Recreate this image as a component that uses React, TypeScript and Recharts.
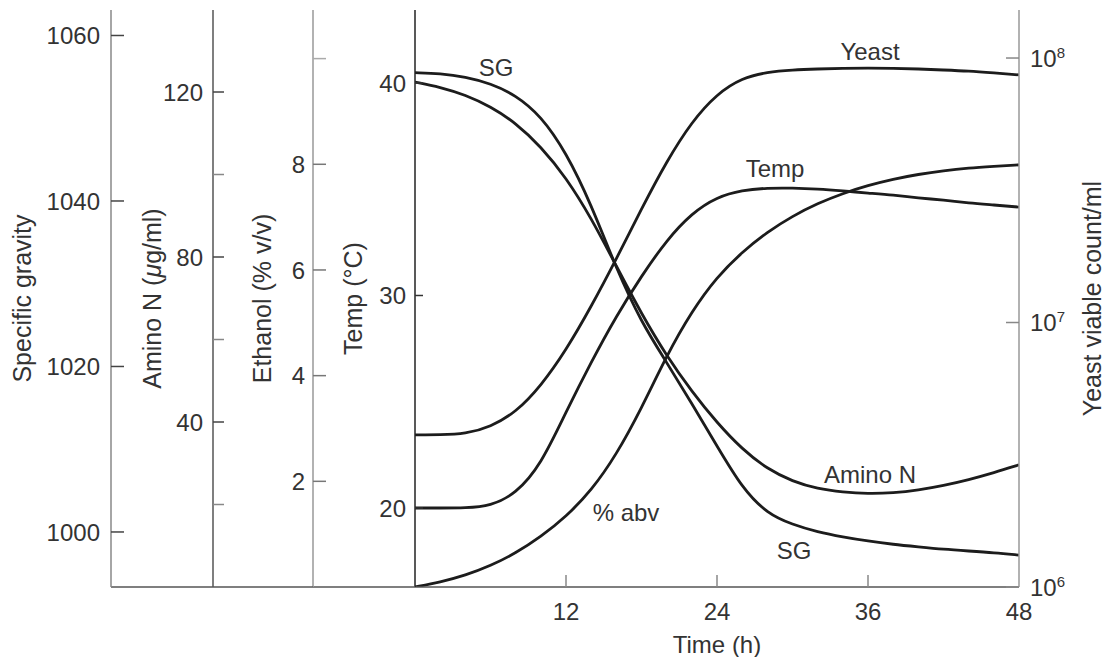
import React from 'react';
import { ComposedChart, Line, XAxis, YAxis, ReferenceDot } from 'recharts';

// ---------- data ----------
const TIME = [0, 2, 4, 6, 8, 10, 12, 14, 16, 18, 20, 22, 24, 26, 28, 30, 32, 34, 36, 38, 40, 42, 44, 46, 48];
const SG = [1055.5, 1055.4, 1055.0, 1054.2, 1052.8, 1050.3, 1045.9, 1039.6, 1031.8, 1025.3, 1020.5, 1015.5, 1010.4, 1005.3, 1002.2, 1000.9, 1000.0, 999.4, 998.9, 998.5, 998.2, 997.9, 997.7, 997.5, 997.2];
const AMINO_N = [122.4, 121.2, 119.3, 116.5, 112.5, 106.8, 99.3, 89.5, 77.8, 66.2, 56.0, 47.4, 39.8, 33.4, 28.6, 25.6, 23.8, 23.0, 22.6, 22.8, 23.5, 24.6, 26.0, 27.7, 29.6];
const ETHANOL = [0, 0.09, 0.22, 0.4, 0.64, 0.95, 1.33, 1.82, 2.5, 3.38, 4.38, 5.22, 5.87, 6.34, 6.72, 7.02, 7.26, 7.45, 7.6, 7.72, 7.81, 7.88, 7.93, 7.96, 7.99];
const TEMP = [20.0, 20.0, 20.0, 20.09, 20.66, 22.02, 24.52, 26.87, 29.04, 30.92, 32.61, 33.88, 34.64, 34.96, 35.06, 35.06, 35.01, 34.92, 34.82, 34.73, 34.59, 34.49, 34.35, 34.26, 34.16];
const YEAST = [3.76e6, 3.76e6, 3.79e6, 4.03e6, 4.57e6, 5.75e6, 7.85e6, 1.148e7, 1.738e7, 2.692e7, 4.074e7, 5.754e7, 7.328e7, 8.414e7, 8.851e7, 9.01e7, 9.09e7, 9.15e7, 9.17e7, 9.15e7, 9.09e7, 9.01e7, 8.93e7, 8.78e7, 8.63e7];

const X_TICKS = [12, 24, 36, 48];
const SG_TICKS = [1000, 1020, 1040, 1060];
const AMINO_TICKS = [20, 40, 60, 80, 100, 120];
const AMINO_LABELED = [40, 80, 120];
const ETH_TICKS = [2, 4, 6, 8, 10];
const ETH_LABELED = [2, 4, 6, 8];
const TEMP_TICKS = [20, 30, 40];
const YEAST_TICKS = [1e6, 1e7, 1e8];

// curve annotations, positioned in (time, temperature-axis) units
const CURVE_LABELS = [
  { text: 'SG', t: 6.44, temp: 40.75 },
  { text: 'Yeast', t: 36.16, temp: 41.46 },
  { text: 'Temp', t: 28.61, temp: 36.0 },
  { text: 'Amino N', t: 36.16, temp: 21.6 },
  { text: '% abv', t: 16.77, temp: 19.81 },
  { text: 'SG', t: 30.12, temp: 17.98 },
];

const rows = TIME.map((t, i) => ({
  t,
  sg: SG[i],
  amino: AMINO_N[i],
  eth: ETHANOL[i],
  temp: TEMP[i],
  yeast: YEAST[i],
}));

// ---------- style ----------
const FONT = '"Liberation Sans", Arial, Helvetica, sans-serif';
const FS = 24;
const TEXT = '#333';
const LINE = '#1c1c1c';

const leftTick = (gap: number, len: number, labeled: number[] | null, color: string, minor: string) => (props: any) => {
  const { x, y, payload } = props;
  const ax = x + gap;
  const v = payload.value;
  const show = !labeled || labeled.includes(v);
  return (
    <g>
      <line x1={ax} y1={y} x2={ax + len} y2={y} stroke={show ? color : minor} strokeWidth={1.5} />
      {show && (
        <text x={x} y={y} dy="0.36em" textAnchor="end" fontSize={FS} fill={TEXT} fontFamily={FONT}>
          {v}
        </text>
      )}
    </g>
  );
};

const X_GAP = 24;
const XTick = (props: any) => {
  const { x, y, payload } = props;
  const ay = y - X_GAP;
  const v = payload.value;
  return (
    <g>
      {v < 48 && <line x1={x} y1={ay} x2={x} y2={ay - 12} stroke="#888" strokeWidth={1.5} />}
      <text x={x} y={y} dy="0.36em" textAnchor="middle" fontSize={FS} fill={TEXT} fontFamily={FONT}>
        {v}
      </text>
    </g>
  );
};

const R_GAP = 11;
const YeastTick = (props: any) => {
  const { x, y, payload } = props;
  const ax = x - R_GAP;
  const exp = Math.round(Math.log10(payload.value));
  return (
    <g>
      <line x1={ax} y1={y} x2={ax - 13} y2={y} stroke="#888" strokeWidth={1.5} />
      <text x={x} y={y} dy="0.36em" textAnchor="start" fontSize={FS} fill={TEXT} fontFamily={FONT}>
        10
        <tspan dy={-9} fontSize={15}>
          {exp}
        </tspan>
      </text>
    </g>
  );
};

const axisTitle = (content: React.ReactNode, dx: number, bottomLine: boolean, fontSize = 25) => (props: any) => {
  const vb = props.viewBox || {};
  const cx = vb.x + dx;
  const cy = vb.y + vb.height / 2;
  return (
    <g>
      <text
        x={cx}
        y={cy}
        dy="0.3em"
        transform={`rotate(-90 ${cx} ${cy})`}
        textAnchor="middle"
        fontSize={fontSize}
        fill={TEXT}
        fontFamily={FONT}
      >
        {content}
      </text>
      {bottomLine && (
        <line x1={vb.x} y1={vb.y + vb.height} x2={vb.x + vb.width} y2={vb.y + vb.height} stroke="#555" strokeWidth={1.5} />
      )}
    </g>
  );
};

export default function App() {
  return (
    <ComposedChart
      width={1102}
      height={649}
      data={rows}
      margin={{ top: 2, right: 0, bottom: 0, left: 0 }}
      style={{ fontFamily: FONT }}
    >
      <XAxis
        dataKey="t"
        type="number"
        domain={[0, 48]}
        ticks={X_TICKS}
        interval={0}
        allowDataOverflow
        height={70}
        tickSize={0}
        tickMargin={X_GAP}
        tickLine={false}
        axisLine={{ stroke: '#555', strokeWidth: 1.5 }}
        tick={XTick}
        label={{ value: 'Time (h)', position: 'insideBottom', offset: 4, fill: TEXT, fontSize: FS, fontFamily: FONT }}
      />
      <YAxis
        yAxisId="a_temp"
        orientation="left"
        type="number"
        width={102}
        domain={[16.282, 43.435]}
        allowDataOverflow
        ticks={TEMP_TICKS}
        interval={0}
        tickSize={0}
        tickMargin={9}
        tickLine={false}
        axisLine={{ stroke: '#222', strokeWidth: 1.5 }}
        tick={leftTick(9, 8, null, '#333', '#333')}
        label={axisTitle('Temp (°C)', 41, true)}
      />
      <YAxis
        yAxisId="b_eth"
        orientation="left"
        type="number"
        width={100}
        domain={[0, 10.92]}
        allowDataOverflow
        ticks={ETH_TICKS}
        interval={0}
        tickSize={0}
        tickMargin={8}
        tickLine={false}
        axisLine={{ stroke: '#999', strokeWidth: 1.5 }}
        tick={leftTick(8, 13, ETH_LABELED, '#777', '#aaa')}
        label={axisTitle('Ethanol (% v/v)', 50, true)}
      />
      <YAxis
        yAxisId="c_amino"
        orientation="left"
        type="number"
        width={102}
        domain={[0, 139.88]}
        allowDataOverflow
        ticks={AMINO_TICKS}
        interval={0}
        tickSize={0}
        tickMargin={10}
        tickLine={false}
        axisLine={{ stroke: '#555', strokeWidth: 1.5 }}
        tick={leftTick(10, 11, AMINO_LABELED, '#444', '#888')}
        label={axisTitle(
          <>
            Amino N (<tspan fontStyle="italic">μ</tspan>g/ml)
          </>,
          42,
          true,
        )}
      />
      <YAxis
        yAxisId="d_sg"
        orientation="left"
        type="number"
        width={103}
        domain={[993.35, 1063.08]}
        allowDataOverflow
        ticks={SG_TICKS}
        interval={0}
        tickSize={0}
        tickMargin={11}
        tickLine={false}
        axisLine={{ stroke: '#888', strokeWidth: 1.5 }}
        tick={leftTick(11, 13, null, '#444', '#444')}
        label={axisTitle('Specific gravity', 15, false)}
      />
      <YAxis
        yAxisId="e_yeast"
        orientation="right"
        type="number"
        scale="log"
        width={91}
        domain={[1e6, 1.519e8]}
        allowDataOverflow
        ticks={YEAST_TICKS}
        interval={0}
        tickSize={0}
        tickMargin={R_GAP}
        tickLine={false}
        axisLine={{ stroke: '#999', strokeWidth: 1.5 }}
        tick={YeastTick}
        label={axisTitle('Yeast viable count/ml', 74, false, 25)}
      />

      <Line yAxisId="d_sg" dataKey="sg" type="basis" stroke={LINE} strokeWidth={2.8} dot={false} isAnimationActive={false} />
      <Line yAxisId="c_amino" dataKey="amino" type="basis" stroke={LINE} strokeWidth={2.8} dot={false} isAnimationActive={false} />
      <Line yAxisId="b_eth" dataKey="eth" type="basis" stroke={LINE} strokeWidth={2.8} dot={false} isAnimationActive={false} />
      <Line yAxisId="a_temp" dataKey="temp" type="basis" stroke={LINE} strokeWidth={2.8} dot={false} isAnimationActive={false} />
      <Line yAxisId="e_yeast" dataKey="yeast" type="basis" stroke={LINE} strokeWidth={2.8} dot={false} isAnimationActive={false} />

      {CURVE_LABELS.map((l, i) => (
        <ReferenceDot
          key={i}
          x={l.t}
          y={l.temp}
          yAxisId="a_temp"
          r={0}
          fill="none"
          stroke="none"
          ifOverflow="visible"
          label={{ value: l.text, position: 'center', fill: TEXT, fontSize: FS, fontFamily: FONT }}
        />
      ))}
    </ComposedChart>
  );
}
